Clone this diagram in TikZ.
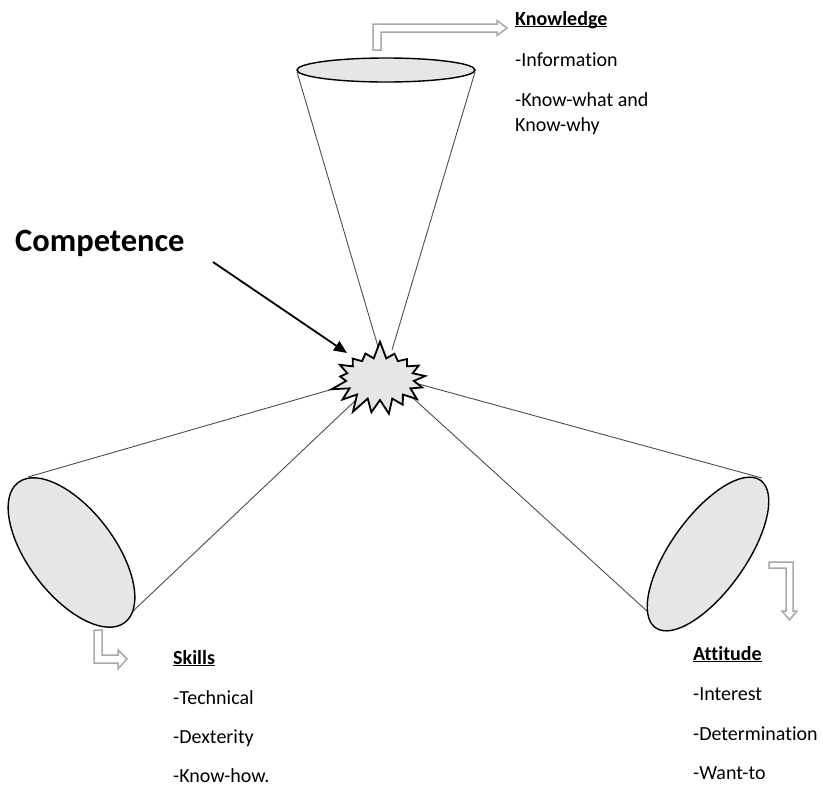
\documentclass[tikz,border=0pt]{standalone}
\usepackage{fontspec}
\setmainfont{Carlito}[RawFeature={-liga}]
\usetikzlibrary{shapes.geometric,shapes.symbols,arrows.meta}
\definecolor{conefill}{HTML}{E6E6E6}
\definecolor{hollow}{HTML}{A8A8A8}
\newcommand\myul[1]{\setbox0\hbox{#1}\rlap{\rule[-2.4pt]{\wd0}{1.3pt}}\box0}
\tikzset{
  cone/.style={ellipse, draw=black, line width=1.4pt, fill=conefill, inner sep=0pt},
  coneline/.style={draw=black!70, line width=0.9pt},
  hollowarrow/.style={draw=hollow, line width=1.5pt, fill=white, line join=miter},
  body/.style={anchor=base west, inner sep=0pt, font=\fontsize{20}{24}\selectfont},
  heading/.style={anchor=base west, inner sep=0pt, font=\fontsize{20}{24}\selectfont\bfseries},
}
\begin{document}
\begin{tikzpicture}[x=1pt,y=-1pt]
\useasboundingbox (0,0) rectangle (823,788);
% coordinates for cone lines
\coordinate (kl) at (297,72);
\coordinate (kr) at (475,72);
\coordinate (klb) at (379,350);
\coordinate (krb) at (392,350);
\coordinate (sl1) at (28,477);
\coordinate (sl1b) at (340,387);
\coordinate (sl2) at (131,613);
\coordinate (sl2b) at (358,398);
\coordinate (al1) at (762,478);
\coordinate (al1b) at (415,383);
\coordinate (al2) at (659,622);
\coordinate (al2b) at (402,388);
% cone lines
\draw[coneline] (kl) -- (klb);
\draw[coneline] (kr) -- (krb);
\draw[coneline] (sl1) -- (sl1b);
\draw[coneline] (sl2) -- (sl2b);
\draw[coneline] (al1) -- (al1b);
\draw[coneline] (al2) -- (al2b);
% cone ends
\node[cone, minimum width=178pt, minimum height=24pt] (kell) at (386,70) {};
\node[cone, minimum width=176pt, minimum height=86pt, rotate=-52.7] (sell) at (71.5,552.5) {};
\node[cone, minimum width=181pt, minimum height=75pt, rotate=54.5] (aell) at (708,554) {};
% starburst
\node[starburst, starburst points=17, starburst point height=18pt, random starburst=7,
      draw=black, line width=1.8pt, fill=conefill, minimum width=104pt, minimum height=78pt,
      inner sep=0pt] (burst) at (380,379) {};
% competence
\node[anchor=base west, inner sep=0pt, font=\fontsize{32.5}{38}\selectfont\bfseries] (comp) at (15,251) {Competence};
\coordinate (ca) at (213,262);
\coordinate (cb) at (347,353);
\draw[line width=1.8pt, -{Triangle[length=13pt,width=11pt]}] (ca) -- (cb);
% hollow arrows
\draw[hollowarrow] (373,50) -- (373,24) -- (497,24) -- (497,20.5) -- (507,28) -- (497,35.5) -- (497,32) -- (381,32) -- (381,50) -- cycle;
\draw[hollowarrow] (94,630) -- (94,663) -- (118,663) -- (118,669) -- (127,659) -- (118,650) -- (118,655) -- (102,655) -- (102,630) -- cycle;
\draw[hollowarrow] (769,562) -- (793,562) -- (793,611) -- (797,611) -- (789.5,620) -- (782,611) -- (786,611) -- (786,568) -- (769,568) -- cycle;
% text blocks
\node[heading] (k1) at (515,25) {\myul{Knowledge}};
\node[body] (k2) at (515,66) {-Information};
\node[body] (k3) at (515,106) {-Know-what and};
\node[body] (k4) at (515,131) {Know-why};
\node[heading] (s1) at (173,664) {\myul{Skills}};
\node[body] (s2) at (173,704) {-Technical};
\node[body] (s3) at (173,743) {-Dexterity};
\node[body] (s4) at (173,782) {-Know-how.};
\node[heading] (a1) at (693,660) {\myul{Attitude}};
\node[body] (a2) at (693,700) {-Interest};
\node[body] (a3) at (693,740) {-Determination};
\node[body] (a4) at (693,779) {-Want-to};
\end{tikzpicture}
\end{document}
